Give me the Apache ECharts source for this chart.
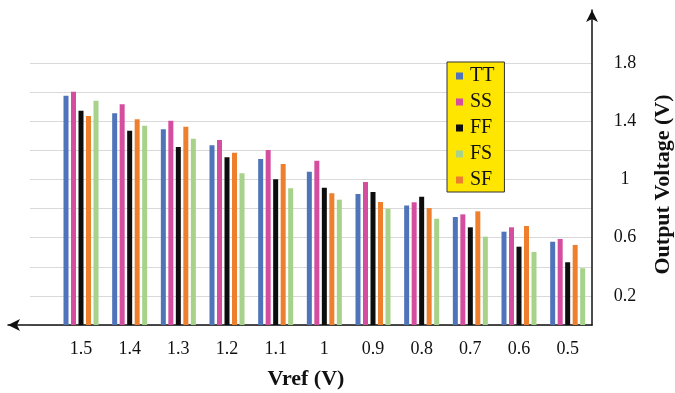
<!DOCTYPE html>
<html>
<head>
<meta charset="utf-8">
<style>
  html, body { margin: 0; padding: 0; background: #fff; }
  #chart { width: 675px; height: 393px; }
</style>
<script src="https://cdn.jsdelivr.net/npm/echarts@6/dist/echarts.min.js"></script>
</head>
<body>
<div id="chart"></div>
<script>
// Reference voltage sweep, left to right
const categories = ['1.5', '1.4', '1.3', '1.2', '1.1', '1', '0.9', '0.8', '0.7', '0.6', '0.5'];

// Output voltage (V) per process corner
const tt = [1.575, 1.454, 1.344, 1.235, 1.140, 1.053, 0.900, 0.821, 0.742, 0.641, 0.572];
const ss = [1.603, 1.516, 1.404, 1.271, 1.202, 1.129, 0.982, 0.843, 0.760, 0.671, 0.591];
const ff = [1.472, 1.335, 1.223, 1.152, 1.001, 0.943, 0.914, 0.881, 0.671, 0.538, 0.431];
const sf = [1.436, 1.413, 1.362, 1.184, 1.106, 0.905, 0.845, 0.803, 0.781, 0.680, 0.550];
const fs = [1.541, 1.369, 1.280, 1.042, 0.939, 0.861, 0.799, 0.730, 0.607, 0.502, 0.390];

// Labelled ticks on the voltage axis
const yTickLabels = ['0.2', '0.6', '1', '1.4', '1.8'];

const FONT = "'Liberation Serif', 'Times New Roman', serif";

// An empty leading slot leaves room for the arrow end of the horizontal axis
const axisCategories = [''].concat(categories);
const pad = arr => [null].concat(arr);

const seriesDefs = [
  { name: 'TT', data: tt, color: '#4f74b9' },
  { name: 'SS', data: ss, color: '#d44d9f' },
  { name: 'FF', data: ff, color: '#0d0d0d' },
  { name: 'SF', data: sf, color: '#ee7f2d' },
  { name: 'FS', data: fs, color: '#a6d28a' }
];

const chart = echarts.init(document.getElementById('chart'), null, { renderer: 'canvas' });

chart.setOption({
  animation: false,
  backgroundColor: '#ffffff',
  textStyle: { fontFamily: FONT },
  legend: {
    data: ['TT', 'SS', 'FF', 'FS', 'SF'],
    orient: 'vertical',
    left: 447,
    top: 62,
    backgroundColor: '#ffe600',
    borderColor: '#333',
    borderWidth: 1,
    borderRadius: 0,
    padding: [4, 10, 2, 9],
    itemWidth: 7,
    itemHeight: 7,
    itemGap: 6,
    icon: 'rect',
    textStyle: { fontFamily: FONT, fontSize: 20, lineHeight: 20, color: '#111', padding: [0, 0, 0, 2] }
  },
  grid: [
    // main plotting area with the arrowed axes
    { left: 8, right: 83, top: 10, bottom: 68, containLabel: false, outerBoundsMode: 'none' },
    // horizontal gridlines, 0 to 1.8 V
    { left: 30, right: 83, top: 63, bottom: 68, containLabel: false, outerBoundsMode: 'none' }
  ],
  xAxis: [
    {
      type: 'category',
      gridIndex: 0,
      data: axisCategories,
      boundaryGap: true,
      axisLine: {
        show: true,
        symbol: ['arrow', 'none'],
        symbolSize: [9, 12],
        lineStyle: { color: '#111', width: 1.5 }
      },
      axisTick: { show: false },
      axisLabel: { fontFamily: FONT, fontSize: 18, color: '#111', margin: 15 },
      name: 'Vref (V)',
      nameLocation: 'middle',
      nameGap: 43,
      nameTextStyle: { fontFamily: FONT, fontSize: 22, fontWeight: 'bold', color: '#111', padding: [0, 0, 0, 12] },
      splitLine: { show: false }
    },
    {
      type: 'value',
      gridIndex: 1,
      show: false,
      min: 0,
      max: 1
    }
  ],
  yAxis: [
    {
      type: 'value',
      gridIndex: 0,
      position: 'right',
      min: 0,
      max: 2.164,
      interval: 0.2,
      axisLine: {
        show: true,
        symbol: ['none', 'arrow'],
        symbolSize: [9, 12],
        lineStyle: { color: '#111', width: 1.5 }
      },
      axisTick: { show: false },
      splitLine: { show: false },
      axisLabel: {
        fontFamily: FONT,
        fontSize: 18,
        color: '#111',
        margin: 33,
        align: 'center',
        formatter: function (v) {
          const s = String(Math.round(v * 10) / 10);
          return yTickLabels.indexOf(s) >= 0 ? s : '';
        }
      },
      name: 'Output Voltage (V)',
      nameLocation: 'middle',
      nameRotate: 90,
      nameGap: 60,
      nameTextStyle: { fontFamily: FONT, fontSize: 22, fontWeight: 'bold', color: '#111', padding: [0, 34, 0, 0] }
    },
    {
      type: 'value',
      gridIndex: 1,
      min: 0,
      max: 1.8,
      interval: 0.2,
      axisLine: { show: false },
      axisTick: { show: false },
      axisLabel: { show: false },
      splitLine: { show: true, lineStyle: { color: '#d9d9d9', width: 1.2 } }
    }
  ],
  series: seriesDefs.map(s => ({
    name: s.name,
    type: 'bar',
    xAxisIndex: 0,
    yAxisIndex: 0,
    data: pad(s.data),
    barWidth: 5,
    barGap: '50%',
    itemStyle: { color: s.color },
    z: 3
  }))
});
</script>
</body>
</html>
